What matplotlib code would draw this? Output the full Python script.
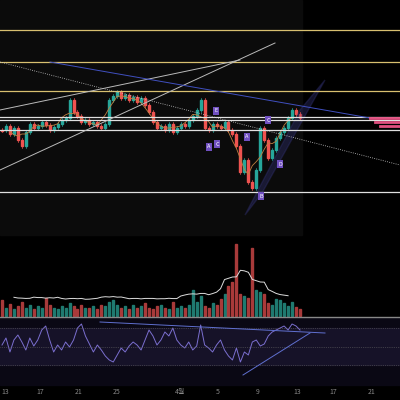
import matplotlib
matplotlib.use("Agg")
import matplotlib.pyplot as plt
import numpy as np
plt.rcParams['font.family'] = ['Noto Sans CJK KR', 'DejaVu Sans']

closes = [130,126,134,128,140,146,132,124,128,126,122,125,130,127,124,120,118,100,112,116,122,120,124,122,126,128,124,100,96,92,98,95,100,97,102,98,105,112,122,128,126,130,124,132,128,124,126,120,116,110,100,128,130,124,126,128,122,130,134,146,172,160,182,188,170,128,140,158,150,138,132,128,118,110,114,118]
volumes = [16,8,12,7,10,14,8,11,7,10,8,18,11,8,7,10,8,13,10,7,11,8,8,10,7,11,10,14,16,11,8,10,7,11,8,10,13,8,7,10,11,8,7,14,8,10,8,11,26,14,20,10,8,13,11,17,22,30,34,72,22,20,18,68,26,24,22,13,11,17,16,13,10,14,9,7]
rsi = [345,338,352,340,335,342,350,338,346,340,330,326,340,352,345,350,342,347,340,328,324,336,344,352,345,350,356,360,362,355,348,352,346,342,345,350,340,330,336,345,340,332,336,328,340,345,348,342,350,346,325,345,348,352,345,340,350,356,360,348,362,352,355,342,340,346,344,336,332,330,328,326,330,324,326,330]
xlabels = ["13","17","21","25","4월","5","9","13","17","21"]
xlabel_pos = [5,40,79,117,180,218,258,297,333,372]

fig = plt.figure(figsize=(4,4), dpi=100)
ax = fig.add_axes([0,0,1,1])
ax.set_xlim(0,400); ax.set_ylim(400,0); ax.axis("off")
fig.patch.set_facecolor("#000000")
ax.add_patch(plt.Rectangle((0,0),302,235,color="#0b0b0b",zorder=0))
ax.add_patch(plt.Rectangle((0,318),400,67,color="#0a0814",zorder=0))
ax.add_patch(plt.Rectangle((0,328),400,37,color="#161228",zorder=0))

n=len(closes); xs=np.linspace(2,300,n)
opens=[closes[0]]+closes[:-1]
for i in range(n):
    up = closes[i] < opens[i]
    c = "#26a69a" if up else "#ef5350"
    lo=max(opens[i],closes[i])+2; hi=min(opens[i],closes[i])-2
    ax.plot([xs[i],xs[i]],[lo,hi],color=c,lw=0.5)
    ax.add_patch(plt.Rectangle((xs[i]-1,min(opens[i],closes[i])),2,max(abs(opens[i]-closes[i]),1),color=c))
    vc = "#1f7a70" if up else "#a83a3a"
    ax.add_patch(plt.Rectangle((xs[i]-1,316-volumes[i]),2,volumes[i],color=vc))
k=5
ax.plot(xs[k//2:-(k//2)],np.convolve(closes,np.ones(k)/k,'valid'),color="#c08040",lw=0.6)
k=7
vma=np.convolve(volumes,np.ones(k)/k,'valid')
ax.plot(xs[k//2:-(k//2)],316-vma-8,color="#dddddd",lw=0.7)
ax.plot([0,400],[317,317],color="#888",lw=1)
ax.plot(xs,rsi,color="#7b6fd0",lw=0.7)
for y in (328,347,365): ax.plot([0,400],[y,y],color="#666",lw=0.5,ls=":")
for y in (30,62,91): ax.plot([0,400],[y,y],color="#d8c070",lw=0.9)
for y in (117,120,130,192): ax.plot([0,400],[y,y],color="#e0e0e0",lw=0.9)
ax.plot([0,275],[170,43],color="#bbb",lw=0.7)
ax.plot([0,240],[110,60],color="#bbb",lw=0.7)
ax.plot([0,400],[62,165],color="#ccc",lw=0.6,ls=":")
ax.plot([50,370],[62,118],color="#4050c0",lw=0.7)
ax.fill([245,262,325,300],[215,193,80,110],color="#303070",alpha=0.4)
ax.plot([100,325],[322,333],color="#6070d0",lw=0.7)
ax.plot([243,310],[375,333],color="#6070d0",lw=0.7)
for xx,yy in [(370,118),(375,122),(380,126)]: ax.plot([xx,400],[yy,yy],color="#e05080",lw=2)
for xx,yy,t in [(209,147,"A"),(217,144,"C"),(216,111,"E"),(247,137,"A"),(268,120,"C"),(280,164,"D"),(261,196,"B")]:
    ax.text(xx,yy,t,color="white",fontsize=4,ha="center",va="center",bbox=dict(boxstyle="square,pad=0.2",fc="#7050c0",ec="none"))
for x,l in zip(xlabel_pos,xlabels): ax.text(x,392,l,color="#888",fontsize=5,ha="center",va="center")
fig.savefig("out.png",dpi=100,facecolor=fig.get_facecolor())
